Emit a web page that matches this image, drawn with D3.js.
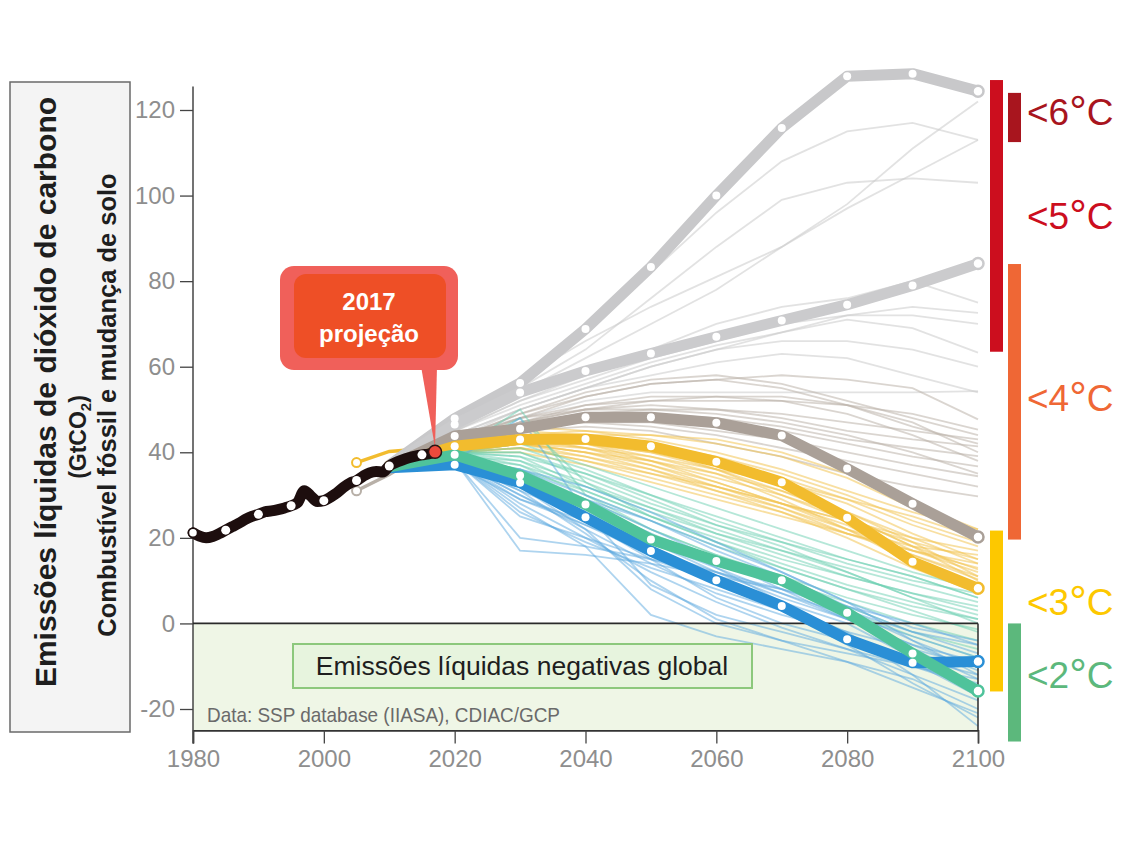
<!DOCTYPE html>
<html>
<head>
<meta charset="utf-8">
<script src="https://cdn.jsdelivr.net/npm/d3@7"></script>
<style>
  body { margin: 0; background: #fff; }
  svg { display: block; }
</style>
</head>
<body>
<svg id="chart" width="1132" height="845"></svg>
<script>
// ---- Historical emissions (fossil fuel + land-use change), GtCO2 ----
const histYears = [1980,1981,1982,1983,1984,1985,1986,1987,1988,1989,1990,1991,1992,1993,1994,1995,1996,1997,1998,1999,
                   2000,2001,2002,2003,2004,2005,2006,2007,2008,2009,2010,2011,2012,2013,2014,2015,2016,2017];
const histValues = [21.2,20.4,20.0,20.3,21.0,21.8,22.6,23.4,24.3,25.0,25.5,26.1,26.3,26.6,27.0,27.5,28.3,31.0,29.8,28.5,
                    28.7,29.5,30.5,31.8,32.8,33.4,34.4,35.2,35.5,35.4,36.8,37.6,38.2,38.7,39.1,39.4,39.6,40.1];
const histMarkerYears = [1980,1985,1990,1995,2000,2005,2010,2015];
const projectionYear = 2017;

// ---- Marker scenarios (thick lines) ----
const scenarioYears = [2010,2020,2030,2040,2050,2060,2070,2080,2090,2100];
const ssp5Baseline  = [37.0,47.9,56.2,68.8,83.3,100.0,115.8,127.9,128.5,124.4];
const ssp3Baseline  = [36.8,46.5,54.0,59.0,63.1,67.0,70.8,74.5,79.0,84.1];
const pathway4C     = [36.5,43.8,45.5,48.2,48.2,46.9,43.9,36.2,28.0,20.2];
const pathway3C     = [36.8,41.4,43.0,43.1,41.4,37.8,33.0,24.7,14.4,8.2];
const pathwayGreen  = [36.6,39.4,34.6,27.8,19.6,14.6,10.1,2.5,-7.0,-15.8];
const pathwayBlue   = [36.4,37.1,32.9,24.8,16.9,10.1,4.1,-3.7,-9.2,-8.9];

// ---- Early harmonised starts (2005–2020) ----
const earlyYears  = [2005,2010,2020];
const earlyYellow = [37.6,40.2,41.4];
const earlyGray   = [31.0,34.8,43.8];

// ---- Individual model pathways (thin lines) ----
const pathwayYears = [2010,2020,2030,2040,2050,2060,2070,2080,2090,2100];
const thinGray = [
  [37,47,57,66,74,81,88,98,111,122],
  [37,47,56,68,82,96,108,115,117,113],
  [37,46,54,62,70,78,88,97,105,113],
  [37,46,55,64,76,88,99,103,104,103],
  [37,45,52,58,64,70,74,76,80,75],
  [37,45,52,57,62,66,70,72,74,72.6],
  [37,45,51,56,61,65,68,72,72,70],
  [37,44,50,55,60,64,68,71,69,63.3],
  [36,44,50,55,58,61,63,62,58,54],
  [36,44,48,52,54,54,54,54,54,54.3],
  [36,43,50,55,60,64,66,66,64,60]
];
const thinTaupe = [
  [36,43,49,53,56,57,58,57,55,47.7],
  [36,43,48,51,52,52,52,51,49,45.3],
  [36,43,48,50,50,50,49,47,45,43],
  [36,42,47,50,51,50,48,45,43,41.4],
  [36,42,47,49,49,48,46,43,41,39.1],
  [36,42,46,48,48,47,45,42,39,36.7],
  [36,42,46,47,47,45,43,40,37,34.4],
  [36,42,46,47,46,44,41,38,35,32],
  [36,42,45,46,45,42,39,35,32,29.7],
  [36,42,47,51,53,53,52,49,44,38],
  [36,42,48,53,56,57,55,51,46,42],
  [36,43,49,54,57,58,56,52,48,44],
  [36,42,47,50,52,53,53,51,47,40],
  [36,42,46,49,50,49,47,44,40,35]
];
const thinYellow = [
  [37,41,44,43,41,38,34,29,23,18],
  [37,41,43,42,40,37,33,28,21,15],
  [37,40,43,41,38,34,30,25,18,12.6],
  [37,40,42,40,37,33,28,22,16,10.3],
  [37,40,42,40,36,31,26,20,13,7.2],
  [37,40,44,44,42,39,35,30,24,19],
  [37,41,45,44,41,36,30,24,17,13],
  [37,40,41,38,34,30,26,21,17,14],
  [37,40,42,39,35,31,27,22,18,16],
  [37,41,43,43,41,37,32,26,19,11],
  [37,40,41,39,36,32,28,23,15,9],
  [37,40,43,42,39,35,29,22,14,8],
  [37,41,44,42,38,33,28,24,20,17],
  [37,40,42,41,39,36,33,29,25,20],
  [37,40,40,37,33,29,25,21,17,12],
  [37,41,46,45,43,40,36,31,26,22],
  [37,40,42,40,38,35,31,26,20,14],
  [37,40,41,38,35,32,28,24,19,15],
  [37,41,44,41,37,32,27,21,16,11],
  [37,40,43,42,40,36,31,25,18,10],
  [37,41,44,45,44,42,39,34,27,20],
  [37,40,43,44,44,43,40,35,28,22]
];
const thinTeal = [
  [37,40,40,34,28,23,19,15,11,6],
  [37,40,38,31,25,20,15,11,7,3],
  [37,40,37,30,24,18,13,8,4,1],
  [37,39,36,29,22,16,11,6,2,-1.4],
  [37,40,50,30,22,16,10,5,0,-4],
  [37,40,41,36,30,24,19,14,10,7],
  [37,39,35,28,21,15,9,3,-3,-8],
  [37,39,38,33,27,21,16,11,7,4],
  [37,40,39,32,26,21,17,13,9,5],
  [37,39,34,27,20,14,9,4,-2,-6],
  [37,40,42,37,32,27,22,17,12,8],
  [37,40,39,35,30,25,20,15,11,6],
  [37,39,37,32,27,22,17,12,6,2],
  [37,40,48,33,25,19,14,9,5,1],
  [37,39,36,31,25,19,13,8,3,-2],
  [37,40,40,35,29,23,18,12,6,0]
];
const thinBlue = [
  [37,38,17,16,14,11,8,4,0,-5],
  [37,38,30,22,14,7,2,-2,-6,-10],
  [37,38,32,24,15,6,0,-4,-8,-12],
  [37,38,48,26,9,2,-2,-6,-10,-14],
  [37,38,28,20,12,5,-1,-6,-12,-18],
  [37,38,31,21,10,1,-4,-9,-15,-21],
  [37,38,33,26,19,12,6,1,-5,-11],
  [37,37,29,23,17,12,7,2,-3,-8],
  [37,38,35,29,22,15,8,1,-5,-9],
  [37,38,25,20,15,10,5,0,-8,-16],
  [37,38,30,23,16,10,4,-2,-12,-24],
  [37,38,34,28,21,13,5,-3,-10,-15],
  [37,38,27,18,2,-3,-6,-9,-13,-20],
  [37,38,32,22,8,0,-4,-7,-10,-13],
  [37,38,36,30,24,17,11,4,-2,-5],
  [37,38,20,18,15,12,8,3,-2,-7],
  [37,38,34,27,20,14,9,3,-4,-10],
  [37,38,31,25,19,13,7,1,-6,-13],
  [37,38,29,24,18,11,3,-5,-14,-22],
  [37,38,33,29,24,18,12,5,-4,-12],
  [37,38,36,32,26,19,12,5,-1,-4],
  [37,38,26,19,13,8,3,-3,-9,-17]
];

// ---- Axis ticks ----
const yTicks = [-20,0,20,40,60,80,100,120];
const xTicks = [1980,2000,2020,2040,2060,2080,2100];

// ---- Warming ranges of 2100 emissions (GtCO2) ----
const warmingLabels = ["<6", "<5", "<4", "<3", "<2"];
const warmingLow    = [112.5, 63.5, 19.6, -15.9, -27.6];
const warmingHigh   = [124.0, 127.0, 84.0, 21.7, 0];
const warmingColumn = [1, 0, 1, 0, 1];

// ---- Text ----
const yTitle1 = "Emissões líquidas de dióxido de carbono";
const yTitle3 = "Combustível fóssil e mudança de solo";
const negativeLabel = "Emissões líquidas negativas global";
const sourceNote = "Data: SSP database (IIASA), CDIAC/GCP";
const calloutLines = ["2017", "projeção"];

// ================= drawing =================
const FONT = "Liberation Sans, Arial, Helvetica, sans-serif";
const svg = d3.select("#chart");
svg.append("rect").attr("width", 1132).attr("height", 845).attr("fill", "#fff");

const x = d3.scaleLinear().domain([1980, 2100]).range([193, 978]);
const y = d3.scaleLinear().domain([-20, 120]).range([709, 110]);
const yBottom = y(-25);

// negative-emissions zone
svg.append("rect")
  .attr("x", x(1980)).attr("y", y(0))
  .attr("width", x(2100) - x(1980)).attr("height", yBottom - y(0))
  .attr("fill", "#eff6e6");

// y-axis title panel
svg.append("rect").attr("x", 10).attr("y", 82).attr("width", 120).attr("height", 650)
  .attr("fill", "#f4f4f4").attr("stroke", "#6a6a6a").attr("stroke-width", 1.5);
svg.append("text").attr("transform", "translate(56,392) rotate(-90)")
  .attr("text-anchor", "middle").attr("font-family", FONT)
  .attr("font-weight", "bold").attr("font-size", 30).attr("fill", "#1e1e1e").text(yTitle1);
const gt = svg.append("text").attr("transform", "translate(86,437) rotate(-90)")
  .attr("text-anchor", "middle").attr("font-family", FONT)
  .attr("font-weight", "bold").attr("fill", "#1e1e1e")
  .style("font-size", "23px");
gt.append("tspan").text("(GtCO");
gt.append("tspan").style("font-size", "15px").attr("dy", 5).text("2");
gt.append("tspan").attr("dy", -5).text(")");
svg.append("text").attr("transform", "translate(116,405) rotate(-90)")
  .attr("text-anchor", "middle").attr("font-family", FONT)
  .attr("font-weight", "bold").attr("font-size", 25.5).attr("fill", "#1e1e1e").text(yTitle3);

// axes
const yAxis = svg.append("g").attr("transform", `translate(${x(1980)},0)`)
  .call(d3.axisLeft(y).tickValues(yTicks).tickSize(13).tickPadding(5).tickFormat(d => d));
yAxis.select(".domain").remove();
yAxis.selectAll(".tick line").attr("stroke", "#444").attr("stroke-width", 1.3);
yAxis.selectAll(".tick text").attr("font-family", FONT)
  .attr("font-size", 24).attr("fill", "#8e8e8e");

const xAxis = svg.append("g").attr("transform", `translate(0,${yBottom})`)
  .call(d3.axisBottom(x).tickValues(xTicks).tickSize(13).tickPadding(7).tickFormat(d => d));
xAxis.select(".domain").attr("stroke", "#333").attr("stroke-width", 1.6);
xAxis.selectAll(".tick line").attr("stroke", "#444").attr("stroke-width", 1.3);
xAxis.selectAll(".tick text").attr("font-family", FONT)
  .attr("font-size", 24).attr("fill", "#8e8e8e");

svg.append("line").attr("x1", x(1980)).attr("x2", x(1980))
  .attr("y1", y(125.5)).attr("y2", yBottom + 13).attr("stroke", "#444").attr("stroke-width", 1.5);

// thin pathways
const thinLine = d3.line().x((d, i) => x(pathwayYears[i])).y(d => y(d));
function drawThin(set, color, opacity) {
  svg.append("g").selectAll("path").data(set).join("path")
    .attr("d", thinLine).attr("fill", "none").attr("stroke", color)
    .attr("stroke-width", 1.8).attr("stroke-opacity", opacity);
}
drawThin(thinGray, "#cacaca", 0.55);
drawThin(thinTaupe, "#bcb2a9", 0.55);
drawThin(thinYellow, "#f2c454", 0.55);
drawThin(thinTeal, "#6ccfb2", 0.5);
drawThin(thinBlue, "#5da9df", 0.5);

// zero line and right frame of the negative zone
svg.append("line").attr("x1", x(1980)).attr("x2", x(2100)).attr("y1", y(0)).attr("y2", y(0))
  .attr("stroke", "#2a2a2a").attr("stroke-width", 1.8);
svg.append("line").attr("x1", x(2100)).attr("x2", x(2100)).attr("y1", y(0)).attr("y2", yBottom)
  .attr("stroke", "#2a2a2a").attr("stroke-width", 1.5);

// early harmonised starts
const earlyLine = d3.line().x((d, i) => x(earlyYears[i])).y(d => y(d));
[[earlyYellow, "#f2bc2e"], [earlyGray, "#b8b0a8"]].forEach(([vals, c]) => {
  svg.append("path").attr("d", earlyLine(vals)).attr("fill", "none")
    .attr("stroke", c).attr("stroke-width", 3.5);
  svg.append("circle").attr("cx", x(earlyYears[0])).attr("cy", y(vals[0])).attr("r", 4.5)
    .attr("fill", "#fff").attr("stroke", c).attr("stroke-width", 2);
});

// thick marker scenarios
const markers = [
  { values: ssp5Baseline, color: "#c8c8ca" },
  { values: ssp3Baseline, color: "#cbcbcd" },
  { values: pathway4C,    color: "#aaa098" },
  { values: pathway3C,    color: "#f2bc2e" },
  { values: pathwayBlue,  color: "#2a8fd6" },
  { values: pathwayGreen, color: "#4fc39b" }
];
const thickLine = d3.line().x((d, i) => x(scenarioYears[i])).y(d => y(d));
markers.forEach(m => {
  svg.append("path").attr("d", thickLine(m.values)).attr("fill", "none")
    .attr("stroke", m.color).attr("stroke-width", 11)
    .attr("stroke-linejoin", "round").attr("stroke-linecap", "round");
});
markers.forEach(m => {
  const n = m.values.length;
  svg.append("g").selectAll("circle").data(m.values.map((v, i) => ({ v, i })).filter(d => d.i > 0))
    .join("circle")
    .attr("cx", d => x(scenarioYears[d.i])).attr("cy", d => y(d.v))
    .attr("r", d => d.i === n - 1 ? 5.5 : 4)
    .attr("fill", "#fff")
    .attr("stroke", d => d.i === n - 1 ? m.color : "none")
    .attr("stroke-width", 2.5);
});

// historical emissions
const histLine = d3.line().x((d, i) => x(histYears[i])).y(d => y(d)).curve(d3.curveMonotoneX);
svg.append("path").attr("d", histLine(histValues)).attr("fill", "none")
  .attr("stroke", "#1d0e0e").attr("stroke-width", 11)
  .attr("stroke-linejoin", "round").attr("stroke-linecap", "round");
svg.append("g").selectAll("circle").data(histMarkerYears).join("circle")
  .attr("cx", d => x(d)).attr("cy", d => y(histValues[histYears.indexOf(d)]))
  .attr("r", 4.5).attr("fill", "#fff")
  .attr("stroke", (d, i) => i === 0 ? "#1d0e0e" : "none").attr("stroke-width", 1.5);

// callout for the 2017 projection
const pYear = projectionYear;
const pVal = histValues[histYears.indexOf(pYear)];
svg.append("path")
  .attr("d", `M421,366 L437,366 L${x(pYear)},${y(pVal) - 4} Z`)
  .attr("fill", "#f0605a");
svg.append("rect").attr("x", 280).attr("y", 266).attr("width", 178).attr("height", 104)
  .attr("rx", 14).attr("fill", "#f0605a");
svg.append("rect").attr("x", 294).attr("y", 274).attr("width", 152).attr("height", 84)
  .attr("rx", 12).attr("fill", "#ee4f26");
svg.append("g").selectAll("text").data(calloutLines).join("text")
  .attr("x", 369).attr("y", (d, i) => 310 + i * 32)
  .attr("text-anchor", "middle").attr("font-family", FONT)
  .attr("font-weight", "bold").attr("font-size", 24).attr("fill", "#fff").text(d => d);
svg.append("circle").attr("cx", x(pYear)).attr("cy", y(pVal)).attr("r", 6.5)
  .attr("fill", "#ec4a3c").attr("stroke", "#2a1414").attr("stroke-width", 1.5);

// negative emissions label
svg.append("rect").attr("x", 293).attr("y", 644).attr("width", 459).attr("height", 44)
  .attr("fill", "#e7f4de").attr("stroke", "#8cc87c").attr("stroke-width", 2);
svg.append("text").attr("x", 522).attr("y", 675).attr("text-anchor", "middle")
  .attr("font-family", FONT).attr("font-size", 26.5)
  .attr("fill", "#1e1e1e").text(negativeLabel);

svg.append("text").attr("x", 207).attr("y", 722)
  .attr("font-family", FONT).attr("font-size", 21)
  .attr("textLength", 353).attr("lengthAdjust", "spacingAndGlyphs")
  .attr("fill", "#6a6a6a").text(sourceNote);

// warming bands
const bandColors = ["#a8151e", "#cc0e1e", "#ef6735", "#fdc800", "#5cb87c"];
const colX = [990, 1008];
svg.append("g").selectAll("rect").data(warmingLabels).join("rect")
  .attr("x", (d, i) => colX[warmingColumn[i]])
  .attr("y", (d, i) => y(warmingHigh[i]))
  .attr("width", 13)
  .attr("height", (d, i) => y(warmingLow[i]) - y(warmingHigh[i]))
  .attr("fill", (d, i) => bandColors[i]);
const labelBaseline = [125, 229, 411, 615, 688];
const wl = svg.append("g").selectAll("text").data(warmingLabels).join("text")
  .attr("x", 1027).attr("y", (d, i) => labelBaseline[i])
  .attr("font-family", FONT).attr("font-size", 37)
  .attr("fill", (d, i) => bandColors[i]);
wl.append("tspan").text(d => d);
wl.append("tspan").attr("font-size", 44).attr("dy", 2).text("°");
wl.append("tspan").attr("dy", -2).text("C");
</script>
</body>
</html>
